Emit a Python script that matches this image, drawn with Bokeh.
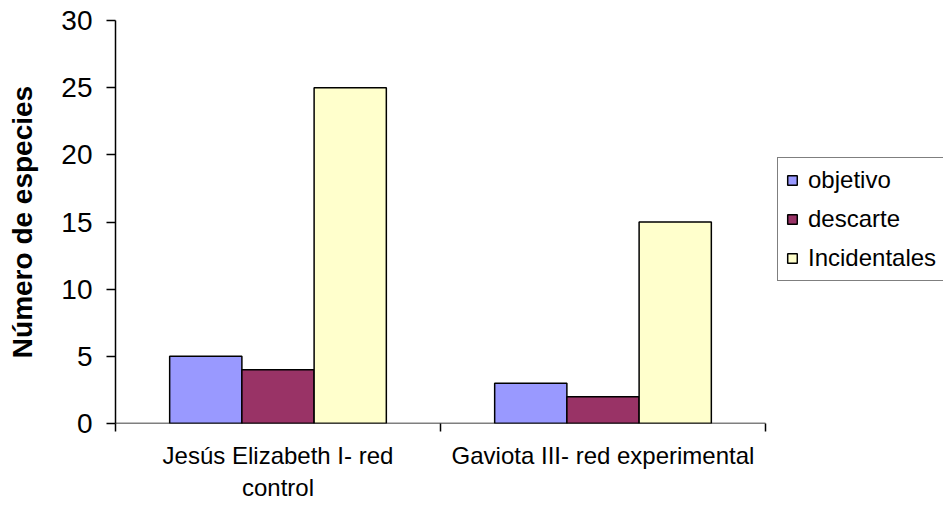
from bokeh.plotting import figure
from bokeh.models import (ColumnDataSource, FixedTicker, Legend, LegendItem, Range1d)
from bokeh.embed import file_html
from bokeh.resources import INLINE

categories = ["Jesús Elizabeth I- red\ncontrol", "Gaviota III- red experimental"]
series_names = ["objetivo", "descarte", "Incidentales"]
objetivo = [5, 3]
descarte = [4, 2]
incidentales = [25, 15]
y_ticks = [0, 5, 10, 15, 20, 25, 30]

colors = ["#9999FF", "#993366", "#FFFFCC"]
FONT = "Liberation Sans"

W, H = 943, 503
LEFT, TOP, BOTTOM = 115, 20, 78
AXIS_END_PX = 765  # where the category axis ends; the legend sits to its right
n_cat = len(categories)
x_end = n_cat * (W - LEFT) / (AXIS_END_PX - LEFT)

p = figure(width=W, height=H, output_backend="svg", toolbar_location=None,
           x_range=Range1d(0, x_end), y_range=Range1d(0, 30),
           min_border_left=LEFT, min_border_right=0, min_border_top=TOP,
           min_border_bottom=BOTTOM)
p.outline_line_color = None
p.xgrid.visible = False
p.ygrid.visible = False

n_series = 3
bar_w = 1.0 / (n_series + 1.5)
centers = [i + 0.5 for i in range(n_cat)]
renderers = []
for k, (name, vals) in enumerate(zip(series_names, [objetivo, descarte, incidentales])):
    off = (k - 1) * bar_w
    src = ColumnDataSource(dict(x=[c + off for c in centers], top=vals))
    r = p.vbar(x="x", top="top", bottom=0, width=bar_w, source=src,
               fill_color=colors[k], line_color="black", line_width=1.5)
    renderers.append((name, r))

# category axis line only over the categories
p.segment(x0=[0], y0=[0], x1=[n_cat], y1=[0], line_color="black", line_width=1.5)

# x axis: labels at centers, ticks at category boundaries
p.xaxis.ticker = FixedTicker(ticks=centers, minor_ticks=list(range(n_cat + 1)))
p.xaxis.major_label_overrides = {c: lab for c, lab in zip(centers, categories)}
p.xaxis.axis_line_color = None
p.xaxis.major_tick_out = 0
p.xaxis.major_tick_in = 0
p.xaxis.minor_tick_out = 8
p.xaxis.minor_tick_in = 0
p.xaxis.minor_tick_line_color = "black"
p.xaxis.minor_tick_line_width = 1.5
p.xaxis.major_label_text_font = FONT
p.xaxis.major_label_text_font_size = "24px"
p.xaxis.major_label_text_color = "black"
p.xaxis.major_label_standoff = 10

p.yaxis.ticker = FixedTicker(ticks=y_ticks)
p.yaxis.minor_tick_line_color = None
p.yaxis.major_tick_out = 9
p.yaxis.major_tick_in = 0
p.yaxis.major_tick_line_color = "black"
p.yaxis.major_tick_line_width = 1.5
p.yaxis.axis_line_width = 1.5
p.yaxis.axis_line_color = "black"
p.yaxis.major_label_text_font = FONT
p.yaxis.major_label_text_font_size = "28px"
p.yaxis.major_label_text_color = "black"
p.yaxis.major_label_standoff = 14
p.yaxis.axis_label = "Número de especies"
p.yaxis.axis_label_text_font = FONT
p.yaxis.axis_label_text_font_size = "28px"
p.yaxis.axis_label_text_font_style = "bold"
p.yaxis.axis_label_text_color = "black"
p.yaxis.axis_label_standoff = 20

legend = Legend(items=[LegendItem(label=n, renderers=[r]) for n, r in renderers],
                location=(662, 142))
legend.label_text_font = FONT
legend.label_text_font_size = "24px"
legend.label_text_color = "black"
legend.glyph_width = 12
legend.glyph_height = 12
legend.label_standoff = 10
legend.padding = 8
legend.spacing = 11
legend.margin = 0
legend.border_line_color = "black"
legend.border_line_width = 1
legend.background_fill_alpha = 1
p.add_layout(legend, "center")

open("out.html", "w").write(file_html(p, INLINE))
